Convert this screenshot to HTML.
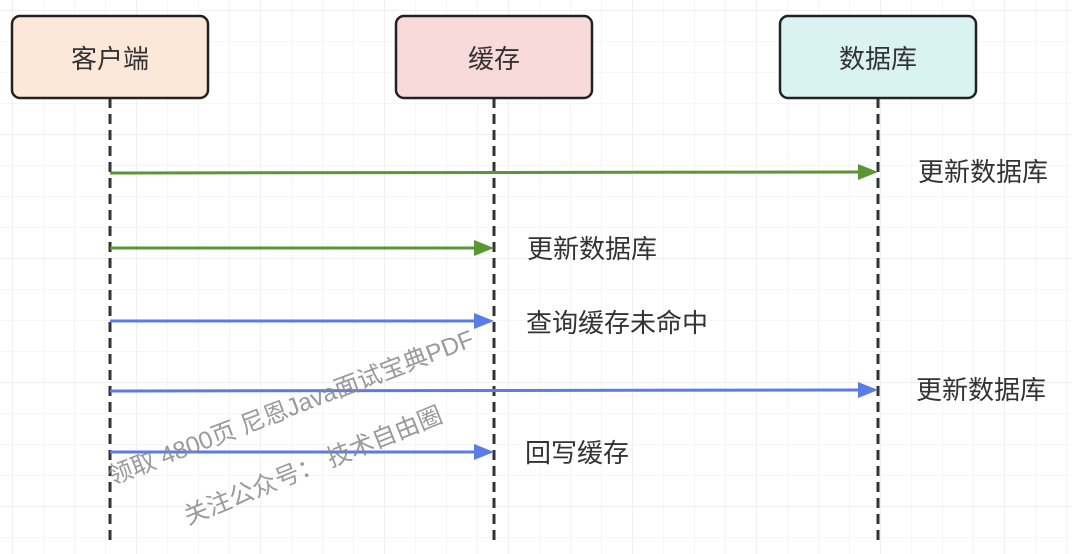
<!DOCTYPE html>
<html><head><meta charset="utf-8"><style>
body{margin:0;width:1072px;height:554px;overflow:hidden;background:#fff;font-family:"Liberation Sans","Noto Sans CJK SC",sans-serif;}
</style></head><body>
<svg width="1072" height="554" xmlns="http://www.w3.org/2000/svg" style="position:absolute;left:0;top:0">
<defs>
<pattern id="g" x="12.5" y="10" width="31" height="31" patternUnits="userSpaceOnUse">
<path d="M0 0H31M0 0V31" stroke="#ececec" stroke-width="1" fill="none"/>
</pattern>
<pattern id="G" x="12.5" y="10" width="124" height="124" patternUnits="userSpaceOnUse">
<path d="M0 0H124M0 0V124" stroke="#e0e0e0" stroke-width="1" fill="none"/>
</pattern>
</defs>
<rect width="1072" height="554" fill="url(#g)"/>
<rect width="1072" height="554" fill="url(#G)"/>
<g stroke="#333" stroke-width="3" stroke-dasharray="10,6">
<line x1="110" y1="98" x2="110" y2="540"/>
<line x1="494" y1="98" x2="494" y2="540"/>
<line x1="878" y1="98" x2="878" y2="540"/>
</g>
<g stroke="#222" stroke-width="2.5">
<rect x="12" y="16" width="196" height="82" rx="8" fill="#fce8d8"/>
<rect x="396" y="16" width="196" height="82" rx="8" fill="#f9dada"/>
<rect x="780" y="16" width="196" height="82" rx="8" fill="#d9f3f3"/>
</g>
<g font-size="26" fill="#333" text-anchor="middle" font-family="Liberation Sans,Noto Sans CJK SC,sans-serif">
<text x="110" y="68">客户端</text>
<text x="494" y="68">缓存</text>
<text x="878" y="68">数据库</text>
</g>
<g stroke-width="3">
<line x1="110" y1="173" x2="862" y2="172" stroke="#5a9633"/>
<polygon points="878,172 858,164 858,180" fill="#5a9633"/>
<line x1="110" y1="248" x2="478" y2="248" stroke="#5a9633"/>
<polygon points="494,248 474,240 474,256" fill="#5a9633"/>
<line x1="110" y1="321" x2="478" y2="321" stroke="#5b7be6"/>
<polygon points="494,321 474,313 474,329" fill="#5b7be6"/>
<line x1="110" y1="391" x2="862" y2="390" stroke="#5b7be6"/>
<polygon points="878,390 858,382 858,398" fill="#5b7be6"/>
<line x1="110" y1="452" x2="478" y2="452" stroke="#5b7be6"/>
<polygon points="494,452 474,444 474,460" fill="#5b7be6"/>
</g>
<g font-size="26" fill="#333" font-family="Liberation Sans,Noto Sans CJK SC,sans-serif">
<text x="918" y="181">更新数据库</text>
<text x="527" y="258">更新数据库</text>
<text x="526" y="332">查询缓存未命中</text>
<text x="916" y="399">更新数据库</text>
<text x="525" y="462">回写缓存</text>
</g>
<g font-size="24.5" fill="#888" fill-opacity="0.85" font-family="Liberation Sans,Noto Sans CJK SC,sans-serif">
<text transform="translate(112,485) rotate(-21)">领取 4800页 尼恩Java面试宝典PDF</text>
<text transform="translate(188,525) rotate(-22)">关注公众号：  技术自由圈</text>
</g>
</svg>
</body></html>
